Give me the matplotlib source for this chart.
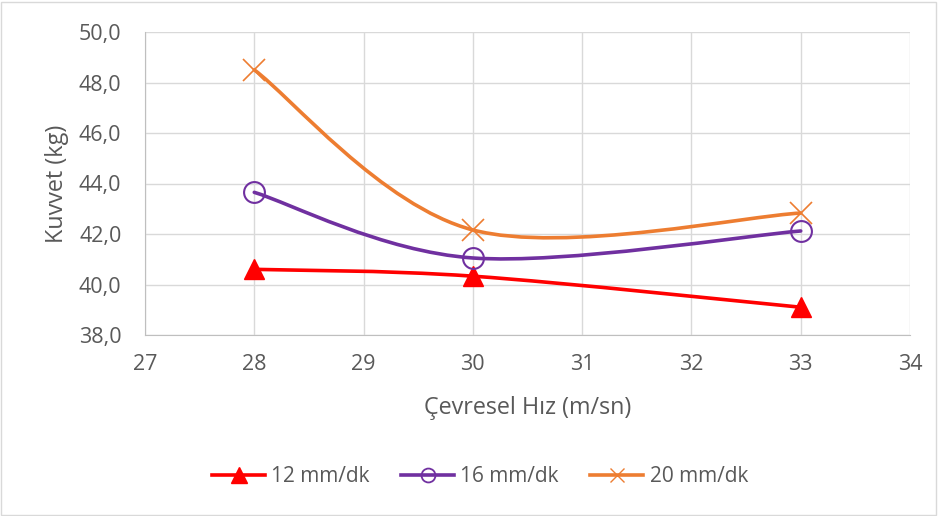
import matplotlib
matplotlib.use('Agg')
import matplotlib.pyplot as plt
from matplotlib.path import Path
from matplotlib.patches import PathPatch, Rectangle
from matplotlib.lines import Line2D
from matplotlib.ticker import FuncFormatter, MultipleLocator
import numpy as np

plt.rcParams['font.family'] = ['Open Sans', 'DejaVu Sans']

# veriler
hiz = [28, 30, 33]
kuvvet_12 = [40.6, 40.33, 39.1]
kuvvet_16 = [43.65, 41.05, 42.12]
kuvvet_20 = [48.5, 42.16, 42.83]

seriler = [
    ('12 mm/dk', kuvvet_12, '#FF0000', '^'),
    ('16 mm/dk', kuvvet_16, '#7030A0', 'o'),
    ('20 mm/dk', kuvvet_20, '#ED7D31', 'x'),
]


def smooth_path(ax, xs, ys):
    """Excel benzeri yumusatilmis cizgi (Catmull-Rom / Bezier)."""
    pts = np.column_stack([xs, ys]).astype(float)
    disp = ax.transData.transform(pts)
    n = len(disp)
    verts = [disp[0]]
    codes = [Path.MOVETO]
    for i in range(n - 1):
        p0 = disp[i - 1] if i > 0 else disp[i]
        p1 = disp[i]
        p2 = disp[i + 1]
        p3 = disp[i + 2] if i + 2 < n else disp[i + 1]
        c1 = p1 + (p2 - p0) / 6.0
        c2 = p2 - (p3 - p1) / 6.0
        verts += [c1, c2, p2]
        codes += [Path.CURVE4] * 3
    return Path(verts, codes)


fig = plt.figure(figsize=(9.38, 5.16), dpi=100)
ax = fig.add_axes([145 / 938, 1 - 335 / 516, 765 / 938, 303 / 516])

ax.set_xlim(27, 34)
ax.set_ylim(38, 50)
ax.xaxis.set_major_locator(MultipleLocator(1))
ax.yaxis.set_major_locator(MultipleLocator(2))
ax.yaxis.set_major_formatter(FuncFormatter(lambda v, p: f'{v:.1f}'.replace('.', ',')))

ax.grid(True, color='#D9D9D9', linewidth=1.0)
ax.set_axisbelow(True)
for s in ['top', 'right']:
    ax.spines[s].set_visible(False)
ax.spines['bottom'].set_color('#BFBFBF')
ax.spines['left'].set_color('#BFBFBF')
ax.tick_params(length=0, labelsize=15.5, colors='#595959')
ax.tick_params(axis='x', pad=14)
ax.tick_params(axis='y', pad=17)

ax.set_xlabel('Çevresel Hız (m/sn)', fontsize=16.8, color='#595959', labelpad=15)
ax.set_ylabel('Kuvvet (kg)', fontsize=16.8, color='#595959', labelpad=7)

handles = []
for ad, deger, renk, isaret in seriler:
    path = smooth_path(ax, hiz, deger)
    ax.add_patch(PathPatch(path, transform=None, facecolor='none', edgecolor=renk,
                           linewidth=2.6, capstyle='round', zorder=3))
    if isaret == '^':
        ax.plot(hiz, deger, linestyle='none', marker='^', markersize=15,
                color=renk, zorder=4, clip_on=False)
        h = Line2D([], [], color=renk, linewidth=2.6, marker='^', markersize=11)
    elif isaret == 'o':
        ax.plot(hiz, deger, linestyle='none', marker='o', markersize=15,
                markerfacecolor='none', markeredgecolor=renk, markeredgewidth=1.5,
                zorder=4, clip_on=False)
        h = Line2D([], [], color=renk, linewidth=2.6, marker='o', markersize=10,
                   markerfacecolor='none', markeredgewidth=1.3)
    else:
        ax.plot(hiz, deger, linestyle='none', marker='x', markersize=16,
                markeredgewidth=1.2, color=renk, zorder=4, clip_on=False)
        h = Line2D([], [], color=renk, linewidth=2.6, marker='x', markersize=10,
                   markeredgewidth=1.0)
    handles.append((h, ad))

leg = fig.legend([h for h, _ in handles], [a for _, a in handles],
                 loc='center', bbox_to_anchor=(480 / 938, 1 - 477 / 516),
                 ncol=3, frameon=False, fontsize=15, handlelength=2.55,
                 columnspacing=1.5, handletextpad=0.3)
for t in leg.get_texts():
    t.set_color('#595959')

# grafik alani cercevesi
fig.patches.append(Rectangle((1 / 938, 1 / 516), 935 / 938, 513 / 516,
                             transform=fig.transFigure, facecolor='none',
                             edgecolor='#D9D9D9', linewidth=1.0))

fig.savefig('out.png', dpi=100)
